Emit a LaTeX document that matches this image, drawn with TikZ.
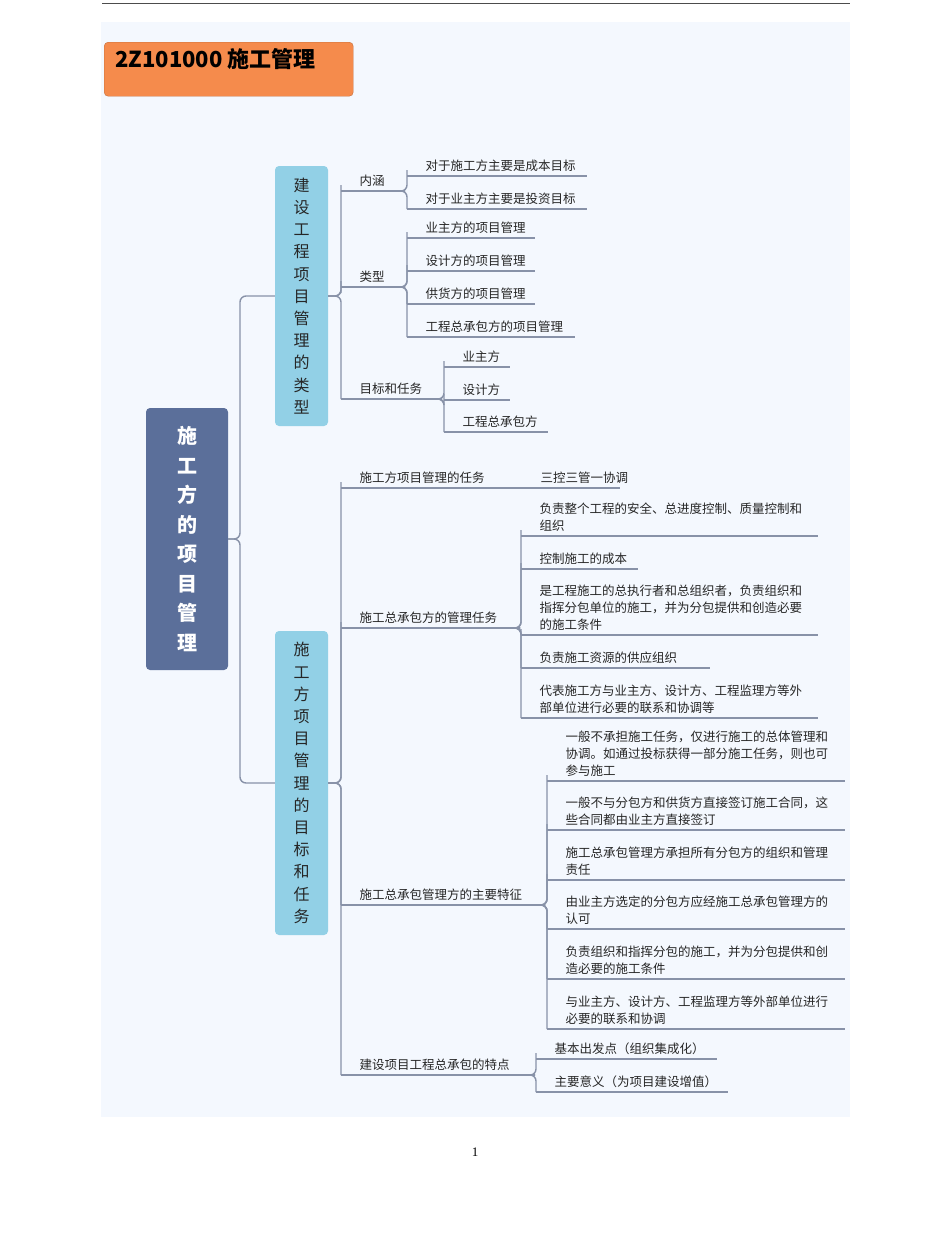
\documentclass[tikz,border=0pt]{standalone}
\usepackage{fontspec}
\setmainfont{Noto Sans CJK SC}
\newfontfamily\serifpn{Liberation Serif}
\begin{document}
\begin{tikzpicture}[x=1pt,y=-1pt,
  conn/.style={draw=lineC,line width=1.4pt,rounded corners=6pt},
  ul/.style={draw=lineC,line width=1.4pt},
  lbl/.style={anchor=south west,inner sep=0pt,font=\fontsize{12.5}{17}\selectfont,align=left,text=black!85},
  vbox/.style={rounded corners=4pt,align=center,inner sep=0pt}]
\definecolor{lineC}{HTML}{8892A8}
\definecolor{bgC}{HTML}{F4F8FE}
\definecolor{orC}{HTML}{F58B4C}
\definecolor{rootC}{HTML}{5B6F9A}
\definecolor{subC}{HTML}{92D0E6}
\useasboundingbox (0,0) rectangle (950,1235);
\fill[white] (0,0) rectangle (950,1235);
\draw[black!70,line width=0.8pt] (102,3) -- (850,3);
\fill[bgC] (101,22) rectangle (850,1117);
\node[font=\fontsize{13}{15}\selectfont\serifpn] (pg) at (475,1152) {1};
% title
\node[vbox,fill=orC,draw=orC!80!black,line width=0.4pt,minimum width=249pt,minimum height=54pt,anchor=north west] (title) at (104,42) {};
\node[anchor=west,inner sep=0pt,font=\fontsize{22}{24}\selectfont\bfseries] (tt) at (115,59) {2Z101000 施工管理};
% root and main boxes
\node[vbox,fill=rootC,minimum width=82pt,minimum height=262pt,text=white,font=\fontsize{20}{29.5}\selectfont\bfseries] (root) at (187,539) {施\\工\\方\\的\\项\\目\\管\\理};
\node[vbox,fill=subC,minimum width=53pt,minimum height=260pt,text=black!85,font=\fontsize{16}{22.2}\selectfont] (b1) at (301.5,296) {建\\设\\工\\程\\项\\目\\管\\理\\的\\类\\型};
\node[vbox,fill=subC,minimum width=53pt,minimum height=304pt,text=black!85,font=\fontsize{16}{22.2}\selectfont] (b2) at (301.5,783) {施\\工\\方\\项\\目\\管\\理\\的\\目\\标\\和\\任\\务};
\draw[conn] (root.east) -- (240,539) -- (240,296) -- (b1.west);
\draw[conn] (root.east) -- (240,539) -- (240,783) -- (b2.west);
% leaf macro: name, x0, x1, y, text
\newcommand\lf[5]{%
  \coordinate (#1-s) at (#2,#4); \coordinate (#1-e) at (#3,#4);
  \draw[ul] (#1-s) -- (#1-e);
  \node[lbl] (#1) at (#2+18.5,#4-4) {#5};}
% branch 1
\lf{nh}{341}{405}{191}{内涵}
\lf{nh1}{407}{587}{176}{对于施工方主要是成本目标}
\lf{nh2}{407}{587}{209}{对于业主方主要是投资目标}
\lf{lx}{341}{405}{287}{类型}
\lf{lx1}{407}{535}{238}{业主方的项目管理}
\lf{lx2}{407}{535}{271}{设计方的项目管理}
\lf{lx3}{407}{535}{304}{供货方的项目管理}
\lf{lx4}{407}{575}{337}{工程总承包方的项目管理}
\lf{mb}{341}{442}{399}{目标和任务}
\lf{mb1}{444}{510}{367}{业主方}
\lf{mb2}{444}{510}{400}{设计方}
\lf{mb3}{444}{548}{432}{工程总承包方}
\foreach \c in {nh,lx,mb} \draw[conn] (b1.east) -- (341,296) |- (\c-s);
\foreach \c in {nh1,nh2} \draw[conn] (nh-e) -- (407,191) |- (\c-s);
\foreach \c in {lx1,lx2,lx3,lx4} \draw[conn] (lx-e) -- (407,287) |- (\c-s);
\foreach \c in {mb1,mb2,mb3} \draw[conn] (mb-e) -- (444,399) |- (\c-s);
% branch 2
\lf{rw}{341}{522}{488}{施工方项目管理的任务}
\lf{rw1}{522}{620}{488}{三控三管一协调}
\lf{gl}{341}{520}{628}{施工总承包方的管理任务}
\lf{gl1}{521}{818}{536}{负责整个工程的安全、总进度控制、质量控制和\\组织}
\lf{gl2}{521}{638}{569}{控制施工的成本}
\lf{gl3}{521}{818}{635}{是工程施工的总执行者和总组织者，负责组织和\\指挥分包单位的施工，并为分包提供和创造必要\\的施工条件}
\lf{gl4}{521}{710}{668}{负责施工资源的供应组织}
\lf{gl5}{521}{818}{718}{代表施工方与业主方、设计方、工程监理方等外\\部单位进行必要的联系和协调等}
\lf{tz}{341}{545}{905}{施工总承包管理方的主要特征}
\lf{tz1}{547}{845}{781}{一般不承担施工任务，仅进行施工的总体管理和\\协调。如通过投标获得一部分施工任务，则也可\\参与施工}
\lf{tz2}{547}{845}{830}{一般不与分包方和供货方直接签订施工合同，这\\些合同都由业主方直接签订}
\lf{tz3}{547}{845}{880}{施工总承包管理方承担所有分包方的组织和管理\\责任}
\lf{tz4}{547}{845}{929}{由业主方选定的分包方应经施工总承包管理方的\\认可}
\lf{tz5}{547}{845}{979}{负责组织和指挥分包的施工，并为分包提供和创\\造必要的施工条件}
\lf{tz6}{547}{845}{1029}{与业主方、设计方、工程监理方等外部单位进行\\必要的联系和协调}
\lf{td}{341}{535}{1075}{建设项目工程总承包的特点}
\lf{td1}{536}{717}{1059}{基本出发点（组织集成化）}
\lf{td2}{536}{728}{1092}{主要意义（为项目建设增值）}
\foreach \c in {rw,gl,tz,td} \draw[conn] (b2.east) -- (341,783) |- (\c-s);
\foreach \c in {gl1,gl2,gl3,gl4,gl5} \draw[conn] (gl-e) -- (521,628) |- (\c-s);
\foreach \c in {tz1,tz2,tz3,tz4,tz5,tz6} \draw[conn] (tz-e) -- (547,905) |- (\c-s);
\foreach \c in {td1,td2} \draw[conn] (td-e) -- (536,1075) |- (\c-s);
\end{tikzpicture}
\end{document}
